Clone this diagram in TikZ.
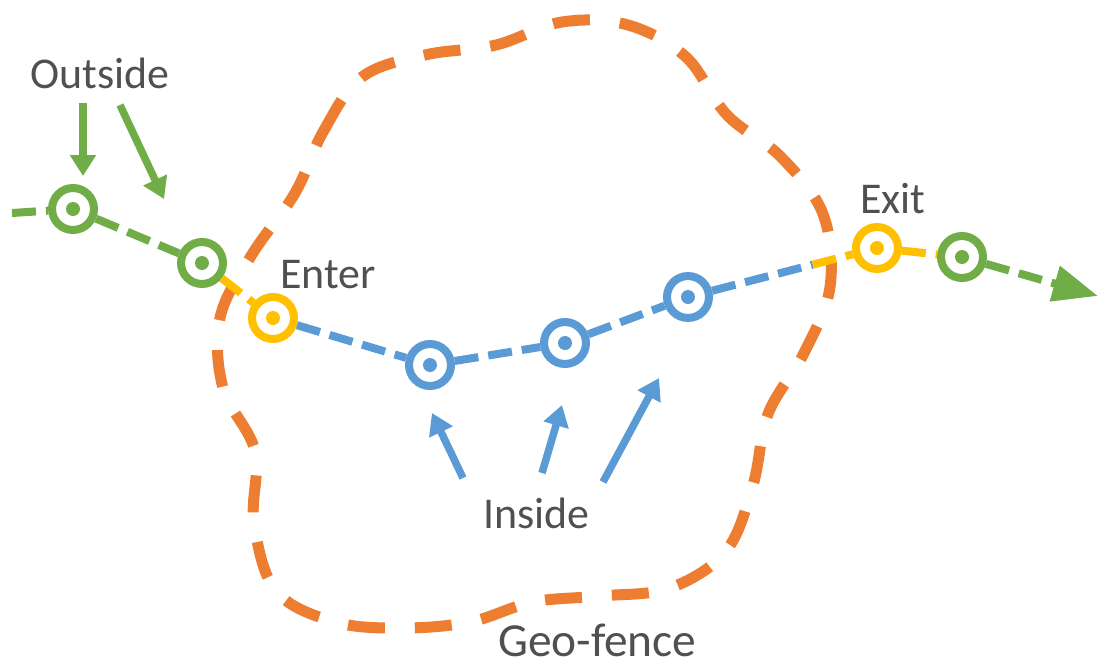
\documentclass[tikz,border=0pt]{standalone}
\usepackage{fontspec}
\setmainfont{Carlito}
\usepackage{xcolor}
\usetikzlibrary{arrows.meta, calc}

\definecolor{ggreen}{HTML}{70AD47}
\definecolor{gblue}{HTML}{5B9BD5}
\definecolor{gyellow}{HTML}{FFC000}
\definecolor{gorange}{HTML}{ED7D31}
\definecolor{gtext}{HTML}{505050}

\begin{document}
\begin{tikzpicture}[
    x=0.02cm, y=-0.02cm,
    spot/.style={circle, draw=#1, line width=1.6mm, minimum size=8.4mm, inner sep=0pt,
        path picture={\fill[#1] (path picture bounding box.center) circle (1.4mm);}},
    track/.style={draw=#1, line width=1.6mm, dash pattern=on 4.8mm off 2mm},
    fence/.style={draw=gorange, line width=2.2mm, dash pattern=on 7.4mm off 6mm},
    ptr/.style={draw=#1, line width=1.5mm, -{Triangle[length=4.2mm, width=5mm]}},
    txt/.style={anchor=base west, inner sep=0pt, text=gtext, font=\fontsize{25}{30}\selectfont}
]
\useasboundingbox[fill=white] (0,0) rectangle (1100,670);

% Geo-fence
\draw[fence] plot[smooth cycle, tension=0.6] coordinates {
    (295,193) (323,132) (362,77) (425,55) (496,45) (562,22) (628,25)
    (686,57) (727,115) (781,157) (823,214) (830,287) (804,353) (768,414)
    (753,485) (726,551) (670,588) (601,596) (533,602) (470,622) (402,628)
    (335,622) (276,591) (254,522) (255,451) (223,388) (220,318) (251,256)};

% Track points
\node[spot=ggreen] (g1) at (73,209) {};
\node[spot=ggreen] (g2) at (202,263) {};
\node[spot=gyellow] (en) at (273,318) {};
\node[spot=gblue] (b1) at (430,365) {};
\node[spot=gblue] (b2) at (565,343) {};
\node[spot=gblue] (b3) at (688,297) {};
\node[spot=gyellow] (ex) at (877,248) {};
\node[spot=ggreen] (g3) at (962,257) {};

\coordinate (start) at (12,213);
\coordinate (finish) at (1098,296);
\coordinate (cross) at ($(b3)!0.66!(ex)$);

% Track segments
\draw[track=ggreen] (start) -- (g1);
\draw[track=ggreen] (g1) -- (g2);
\draw[track=gyellow] (g2) -- (en);
\draw[track=gblue] (en) -- (b1);
\draw[track=gblue] (b1) -- (b2);
\draw[track=gblue] (b2) -- (b3);
\draw[track=gblue] (b3) -- (cross);
\draw[track=gyellow] (cross) -- (ex);
\draw[track=gyellow] (ex) -- (g3);
\draw[track=ggreen, -{Triangle[length=9mm, width=7mm]}] (g3) -- (finish);

% Labels
\node[txt] (outside) at (30,88) {Outside};
\node[txt] (enter) at (280,288) {Enter};
\node[txt] (exit) at (860,213) {Exit};
\node[txt] (inside) at (483,528) {Inside};
\node[txt, font=\fontsize{27}{32}\selectfont] (geofence) at (498,656) {Geo-fence};

% Pointers
\coordinate (o1s) at (83,103);
\coordinate (o1e) at (83,176);
\coordinate (o2s) at (120,105);
\coordinate (o2e) at (164,199);
\draw[ptr=ggreen] (o1s) -- (o1e);
\draw[ptr=ggreen] (o2s) -- (o2e);

\coordinate (i1s) at (463,478);
\coordinate (i1e) at (432,413);
\coordinate (i2s) at (542,473);
\coordinate (i2e) at (562,405);
\coordinate (i3s) at (603,482);
\coordinate (i3e) at (659,378);
\draw[ptr=gblue] (i1s) -- (i1e);
\draw[ptr=gblue] (i2s) -- (i2e);
\draw[ptr=gblue] (i3s) -- (i3e);

\end{tikzpicture}
\end{document}
